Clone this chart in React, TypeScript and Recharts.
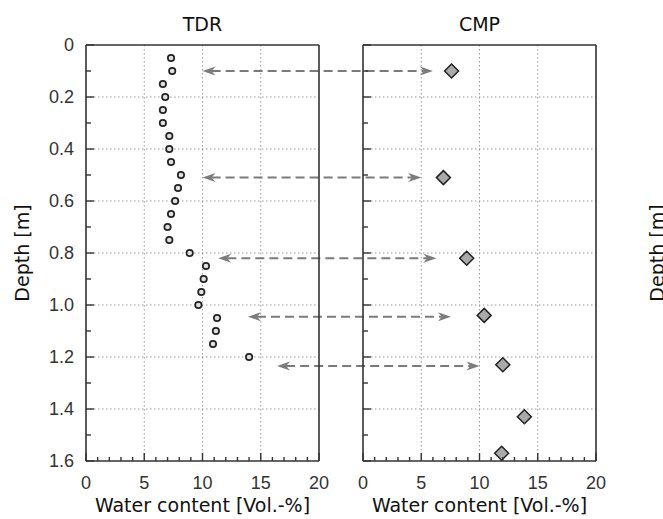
import {
  CartesianGrid,
  ReferenceLine,
  Scatter,
  ScatterChart,
  XAxis,
  YAxis,
} from "recharts";

// TDR profile: depth [m] and water content [Vol.-%]
const tdrDepth = [
  0.05, 0.1, 0.15, 0.2, 0.25, 0.3, 0.35, 0.4, 0.45, 0.5, 0.55, 0.6, 0.65, 0.7,
  0.75, 0.8, 0.85, 0.9, 0.95, 1.0, 1.05, 1.1, 1.15, 1.2,
];
const tdrWater = [
  7.3, 7.4, 6.6, 6.8, 6.6, 6.6, 7.15, 7.15, 7.3, 8.15, 7.9, 7.65, 7.3, 7.0,
  7.15, 8.9, 10.3, 10.1, 9.9, 9.65, 11.25, 11.15, 10.9, 14.0,
];

// CMP profile
const cmpDepth = [0.1, 0.51, 0.82, 1.04, 1.23, 1.43, 1.57];
const cmpWater = [7.6, 6.9, 8.9, 10.4, 12.0, 13.85, 11.9];

// dashed double arrows linking the two panels
const arrowDepth = [0.1, 0.51, 0.82, 1.045, 1.235];
const arrowTdrEnd = [10.0, 10.0, 11.35, 13.9, 16.4];
const arrowCmpEnd = [6.0, 5.0, 6.3, 7.55, 10.0];

const xTicks = [0, 1, 2, 3, 4, 5, 6, 7, 8, 9, 10, 11, 12, 13, 14, 15, 16, 17, 18, 19, 20];
const xMajor = [0, 5, 10, 15, 20];
const xGrid = [5, 10, 15];
const yTicks = [0, 0.1, 0.2, 0.3, 0.4, 0.5, 0.6, 0.7, 0.8, 0.9, 1.0, 1.1, 1.2, 1.3, 1.4, 1.5, 1.6];
const yMajor = [0, 0.2, 0.4, 0.6, 0.8, 1.0, 1.2, 1.4, 1.6];
const yLabels = ["0", "0.2", "0.4", "0.6", "0.8", "1.0", "1.2", "1.4", "1.6"];
const yGrid = [0.2, 0.4, 0.6, 0.8, 1.0, 1.2, 1.4];

const tdrData = tdrDepth.map((d, i) => ({ x: tdrWater[i], y: d }));
const cmpData = cmpDepth.map((d, i) => ({ x: cmpWater[i], y: d }));

const FRAME = "#333";
const GRID = "#9a9a9a";
const ARROW = "#7b7b7b";
const TICK_FONT = "'Liberation Sans', Arial, sans-serif";
const LABEL_FONT = "'DejaVu Sans', Verdana, sans-serif";
const GAP = 10;
const PANEL_SHIFT = 277; // left edge of CMP plot minus left edge of TDR plot

const findIdx = (v: number, list: number[]) =>
  list.findIndex((m) => Math.abs(m - v) < 1e-6);

function makeXTick(side: "top" | "bottom") {
  return (props: any) => {
    const { x, y, payload } = props;
    const v = payload.value;
    const major = findIdx(v, xMajor) >= 0;
    const len = major ? 8 : 4;
    if (side === "top") {
      const ay = y + GAP;
      return (
        <line x1={x} x2={x} y1={ay} y2={ay + len} stroke={FRAME} strokeWidth={1.4} />
      );
    }
    const ay = y - GAP;
    return (
      <g>
        <line x1={x} x2={x} y1={ay} y2={ay - len} stroke={FRAME} strokeWidth={1.4} />
        {major && (
          <text
            x={x}
            y={ay + 28}
            textAnchor="middle"
            fontFamily={TICK_FONT}
            fontSize={18}
            fill="#333"
          >
            {v}
          </text>
        )}
      </g>
    );
  };
}

function makeYTick(side: "left" | "right", labelled: boolean) {
  return (props: any) => {
    const { x, y, payload } = props;
    const idx = findIdx(payload.value, yMajor);
    const major = idx >= 0;
    const len = major ? 8 : 5;
    const ax = side === "left" ? x + GAP : x - GAP;
    const dir = side === "left" ? 1 : -1;
    return (
      <g>
        <line x1={ax} x2={ax + dir * len} y1={y} y2={y} stroke={FRAME} strokeWidth={1.4} />
        {labelled && major && (
          <text
            x={side === "left" ? ax - 12 : ax + 11}
            y={y}
            dy="0.36em"
            textAnchor={side === "left" ? "end" : "start"}
            fontFamily={TICK_FONT}
            fontSize={18}
            fill="#333"
          >
            {yLabels[idx]}
          </text>
        )}
      </g>
    );
  };
}

const titleLabel = (text: string) => (p: any) => {
  const vb = p.viewBox;
  return (
    <text
      x={vb.x + vb.width / 2}
      y={vb.y - 13}
      textAnchor="middle"
      fontFamily={LABEL_FONT}
      fontSize={19}
      fill="#111"
    >
      {text}
    </text>
  );
};

const xTitle = (p: any) => {
  const vb = p.viewBox;
  return (
    <text
      x={vb.x + vb.width / 2}
      y={vb.y + 51}
      textAnchor="middle"
      fontFamily={LABEL_FONT}
      fontSize={19}
      fill="#111"
    >
      Water content [Vol.-%]
    </text>
  );
};

const depthTitle = (dx: number) => (p: any) => {
  const vb = p.viewBox;
  const cx = vb.x + dx;
  const cy = vb.y + vb.height / 2;
  return (
    <text
      x={cx}
      y={cy}
      transform={`rotate(-90 ${cx} ${cy})`}
      textAnchor="middle"
      fontFamily={LABEL_FONT}
      fontSize={19}
      fill="#111"
    >
      Depth [m]
    </text>
  );
};

function Circle(p: any) {
  return <circle cx={p.cx} cy={p.cy} r={3.2} fill="#e0e0e0" stroke="#222" strokeWidth={1.7} />;
}

function Diamond(p: any) {
  const h = 7;
  const { cx, cy } = p;
  return (
    <polygon
      points={`${cx},${cy - h} ${cx + h},${cy} ${cx},${cy + h} ${cx - h},${cy}`}
      fill="#a9a9a9"
      stroke="#222"
      strokeWidth={1.5}
    />
  );
}

function DoubleArrow(props: any) {
  const x1 = Number(props.x1);
  const y1 = Number(props.y1);
  const x2 = Number(props.x2) + PANEL_SHIFT;
  const L = 13;
  const H = 4.5;
  return (
    <g>
      <line
        x1={x1 + L * 0.7}
        y1={y1}
        x2={x2 - L * 0.7}
        y2={y1}
        stroke={ARROW}
        strokeWidth={2}
        strokeDasharray="9 5"
      />
      <polygon
        points={`${x1},${y1} ${x1 + L},${y1 - H} ${x1 + L * 0.7},${y1} ${x1 + L},${y1 + H}`}
        fill={ARROW}
      />
      <polygon
        points={`${x2},${y1} ${x2 - L},${y1 - H} ${x2 - L * 0.7},${y1} ${x2 - L},${y1 + H}`}
        fill={ARROW}
      />
    </g>
  );
}

// use the axis scale when the grid gets it, else map linearly over the plot box
function scaleX(axis: any, offset: any, v: number) {
  const s = axis?.scale;
  if (typeof s === "function") return s(v);
  if (s && typeof s.map === "function") return s.map(v);
  return offset.left + (v / 20) * offset.width;
}
function scaleY(axis: any, offset: any, v: number) {
  const s = axis?.scale;
  if (typeof s === "function") return s(v);
  if (s && typeof s.map === "function") return s.map(v);
  return offset.top + (v / 1.6) * offset.height;
}

function Grid() {
  return (
    <CartesianGrid
      xAxisId="b"
      yAxisId="l"
      stroke={GRID}
      strokeDasharray="1.5 2.5"
      verticalCoordinatesGenerator={({ xAxis, offset }: any) =>
        xGrid.map((v) => scaleX(xAxis, offset, v))
      }
      horizontalCoordinatesGenerator={({ yAxis, offset }: any) =>
        yGrid.map((v) => scaleY(yAxis, offset, v))
      }
    />
  );
}

export default function App() {
  const axisLine = { stroke: FRAME, strokeWidth: 1.6 };
  return (
    <div
      style={{
        position: "absolute",
        top: 0,
        left: 0,
        width: 663,
        height: 519,
        background: "#fff",
        overflow: "hidden",
      }}
    >
      <div style={{ position: "absolute", left: 0, top: 0 }}>
        <ScatterChart
          width={663}
          height={519}
          margin={{ top: 44, right: 343, bottom: 0, left: 0 }}
        >
          {Grid()}
          <XAxis
            xAxisId="b"
            type="number"
            dataKey="x"
            domain={[0, 20]}
            ticks={xTicks}
            interval={0}
            height={58}
            tickSize={0}
            tickMargin={GAP}
            tickLine={false}
            axisLine={axisLine}
            tick={makeXTick("bottom")}
            label={xTitle}
          />
          <XAxis
            xAxisId="t"
            orientation="top"
            type="number"
            dataKey="x"
            domain={[0, 20]}
            ticks={xTicks}
            interval={0}
            height={1}
            tickSize={0}
            tickMargin={GAP}
            tickLine={false}
            axisLine={axisLine}
            tick={makeXTick("top")}
            label={titleLabel("TDR")}
          />
          <YAxis
            yAxisId="l"
            type="number"
            dataKey="y"
            domain={[0, 1.6]}
            reversed
            ticks={yTicks}
            interval={0}
            width={86}
            tickSize={0}
            tickMargin={GAP}
            tickLine={false}
            axisLine={axisLine}
            tick={makeYTick("left", true)}
            label={depthTitle(29)}
          />
          <YAxis
            yAxisId="r"
            orientation="right"
            type="number"
            dataKey="y"
            domain={[0, 1.6]}
            reversed
            ticks={yTicks}
            interval={0}
            width={1}
            tickSize={0}
            tickMargin={GAP}
            tickLine={false}
            axisLine={axisLine}
            tick={makeYTick("right", false)}
          />
          <Scatter
            xAxisId="b"
            yAxisId="l"
            data={tdrData}
            shape={Circle}
            isAnimationActive={false}
          />
          {arrowDepth.map((d, i) => (
            <ReferenceLine
              key={i}
              xAxisId="b"
              yAxisId="l"
              segment={[
                { x: arrowTdrEnd[i], y: d },
                { x: arrowCmpEnd[i], y: d },
              ]}
              stroke={ARROW}
              shape={DoubleArrow}
            />
          ))}
        </ScatterChart>
      </div>
      <div style={{ position: "absolute", left: 330, top: 0 }}>
        <ScatterChart
          width={333}
          height={519}
          margin={{ top: 44, right: 0, bottom: 0, left: 32 }}
        >
          {Grid()}
          <XAxis
            xAxisId="b"
            type="number"
            dataKey="x"
            domain={[0, 20]}
            ticks={xTicks}
            interval={0}
            height={58}
            tickSize={0}
            tickMargin={GAP}
            tickLine={false}
            axisLine={axisLine}
            tick={makeXTick("bottom")}
            label={xTitle}
          />
          <XAxis
            xAxisId="t"
            orientation="top"
            type="number"
            dataKey="x"
            domain={[0, 20]}
            ticks={xTicks}
            interval={0}
            height={1}
            tickSize={0}
            tickMargin={GAP}
            tickLine={false}
            axisLine={axisLine}
            tick={makeXTick("top")}
            label={titleLabel("CMP")}
          />
          <YAxis
            yAxisId="l"
            type="number"
            dataKey="y"
            domain={[0, 1.6]}
            reversed
            ticks={yTicks}
            interval={0}
            width={1}
            tickSize={0}
            tickMargin={GAP}
            tickLine={false}
            axisLine={axisLine}
            tick={makeYTick("left", false)}
          />
          <YAxis
            yAxisId="r"
            orientation="right"
            type="number"
            dataKey="y"
            domain={[0, 1.6]}
            reversed
            ticks={yTicks}
            interval={0}
            width={67}
            tickSize={0}
            tickMargin={GAP}
            tickLine={false}
            axisLine={axisLine}
            tick={makeYTick("right", true)}
            label={depthTitle(68)}
          />
          <Scatter
            xAxisId="b"
            yAxisId="l"
            data={cmpData}
            shape={Diamond}
            isAnimationActive={false}
          />
        </ScatterChart>
      </div>
    </div>
  );
}
